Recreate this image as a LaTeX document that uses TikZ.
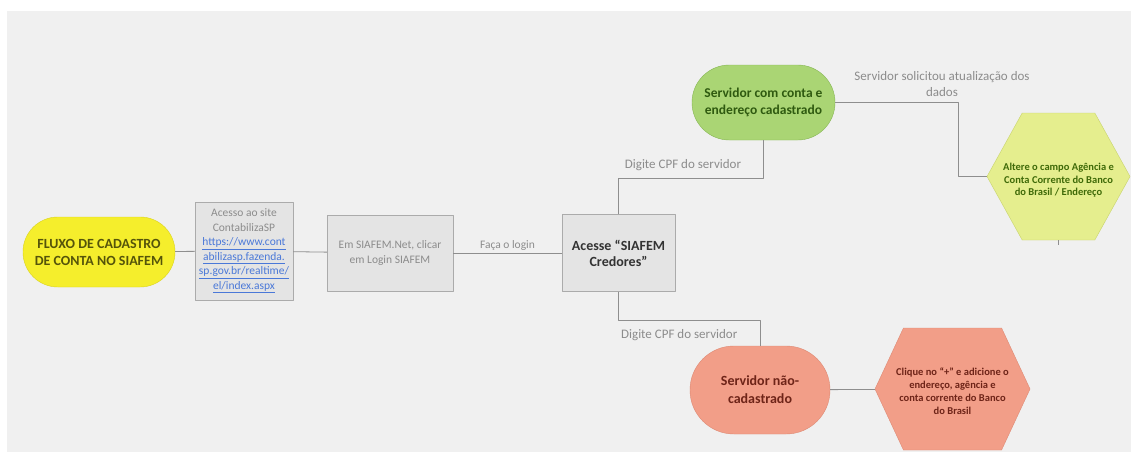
\documentclass[tikz,border=0pt]{standalone}
\usepackage{fontspec}
\setmainfont{Carlito}
\usetikzlibrary{shapes.symbols}
\usetikzlibrary{positioning}

\definecolor{fundo}{HTML}{F0F0F0}
\definecolor{linha}{HTML}{8E8E8E}
\definecolor{amarelo}{HTML}{F5EE2C}
\definecolor{amarelobd}{HTML}{D9D21C}
\definecolor{amarelotx}{HTML}{55540A}
\definecolor{verde}{HTML}{AAD574}
\definecolor{verdebd}{HTML}{86B653}
\definecolor{verdetx}{HTML}{2F5A10}
\definecolor{lima}{HTML}{E5EE8E}
\definecolor{limabd}{HTML}{C8D46C}
\definecolor{limatx}{HTML}{3F6A08}
\definecolor{salmao}{HTML}{F29E88}
\definecolor{salmaobd}{HTML}{DE8A74}
\definecolor{salmaotx}{HTML}{6E2418}
\definecolor{cinza}{HTML}{E4E4E4}
\definecolor{cinzabd}{HTML}{ABABAB}
\definecolor{cinzatx}{HTML}{8C8C8C}
\definecolor{link}{HTML}{4A78D8}

\begin{document}
\begin{tikzpicture}[x=1pt,y=-1pt,line join=round]

  \tikzstyle{inicio}=[rectangle,draw=amarelobd,fill=amarelo,text=amarelotx,
    align=center,font=\fontsize{14}{17}\selectfont\bfseries];
  \tikzstyle{caixa}=[rectangle,draw=cinzabd,fill=cinza,text=cinzatx,
    align=center,font=\fontsize{11.5}{14.5}\selectfont];
  \tikzstyle{servidor}=[rectangle,align=center,font=\fontsize{13.5}{17}\selectfont\bfseries];
  \tikzstyle{hexagono}=[signal,signal to=east and west,inner sep=0pt];
  \tikzstyle{hextexto}=[align=center,font=\fontsize{10.5}{12.5}\selectfont\bfseries];
  \tikzstyle{ligacao}=[draw=linha,line width=0.8pt];
  \tikzstyle{rotulo}=[text=cinzatx,align=center,font=\fontsize{13}{16}\selectfont];

  % fundo
  \fill[white] (0,0) rectangle (1131,452);
  \fill[fundo] (7,11) rectangle (1131,452);
  \useasboundingbox (0,0) rectangle (1131,452);

  \node[inicio,rounded corners=34.9pt,minimum width=152pt,minimum height=70pt]
    (fluxo) at (99,252) {FLUXO DE CADASTRO\\DE CONTA NO SIAFEM};
  \node[caixa,minimum width=98pt,minimum height=98pt,inner sep=1pt]
    (acesso) at (244,251) {Acesso ao site\\ContabilizaSP\\
      \textcolor{link}{\underline{https://www.cont}}\\
      \textcolor{link}{\underline{abilizasp.fazenda.}}\\
      \textcolor{link}{\underline{sp.gov.br/realtime/}}\\
      \textcolor{link}{\underline{el/index.aspx}}};
  \node[caixa,minimum width=126pt,minimum height=76pt]
    (siafemnet) at (390,253) {Em SIAFEM.Net, clicar\\em Login SIAFEM};
  \node[caixa,text=black!80,minimum width=113pt,minimum height=77pt,
    font=\fontsize{14}{16}\selectfont\bfseries]
    (credores) at (618.5,253) {Acesse ``SIAFEM\\Credores''};

  \node[servidor,draw=verdebd,fill=verde,text=verdetx,rounded corners=37.4pt,
    minimum width=143pt,minimum height=75pt]
    (comconta) at (763.5,102.5) {Servidor com conta e\\endereço cadastrado};
  \node[hexagono,draw=limabd,fill=lima,signal pointer angle=122,
    minimum width=143pt,minimum height=127pt,
    label={[hextexto,text=limatx,yshift=-4pt]center:Altere o campo Agência e\\Conta Corrente do Banco\\do Brasil / Endereço}]
    (atualiza) at (1058.5,176.5) {};

  \node[servidor,draw=salmaobd,fill=salmao,text=salmaotx,rounded corners=43.9pt,
    minimum width=140pt,minimum height=88pt,font=\fontsize{14}{18}\selectfont\bfseries]
    (semcadastro) at (760,390) {Servidor não-\\cadastrado};
  \node[hexagono,draw=salmaobd,fill=salmao,signal pointer angle=130,
    minimum width=155pt,minimum height=122pt,
    label={[hextexto,text=salmaotx,font=\fontsize{10.5}{13}\selectfont\bfseries,yshift=-2pt]center:Clique no ``+'' e adicione o\\endereço, agência e\\conta corrente do Banco\\do Brasil}]
    (cliqueno) at (952.5,389) {};

  \coordinate (dobracima) at (0,178);
  \coordinate (dobrabaixo) at (0,320);
  \coordinate (dobralado) at (958,0);
  \coordinate (toco) at (1058.5,245);

  \path[ligacao]
    (fluxo) edge (acesso)
    (acesso) edge (siafemnet)
    (siafemnet) edge node[rotulo,above,font=\fontsize{11.5}{14}\selectfont,yshift=-1pt] {Faça o login} (credores)
    (semcadastro) edge (cliqueno)
    (atualiza.south) edge (toco)
  ;
  \draw[ligacao] (credores) -- (credores |- dobracima)
    -- node[rotulo,above,xshift=-8pt,yshift=4pt] {Digite CPF do servidor} (dobracima -| comconta)
    -- (comconta);
  \draw[ligacao] (credores) -- (credores |- dobrabaixo)
    -- node[rotulo,below,xshift=-10pt,yshift=-6pt] {Digite CPF do servidor} (dobrabaixo -| semcadastro)
    -- (semcadastro);
  \draw[ligacao] (comconta) -- (comconta -| dobralado)
    node[rotulo,above,pos=1,xshift=-16pt,yshift=2pt] {Servidor solicitou atualização dos\\dados}
    -- (dobralado |- atualiza) -- (atualiza);

\end{tikzpicture}
\end{document}
